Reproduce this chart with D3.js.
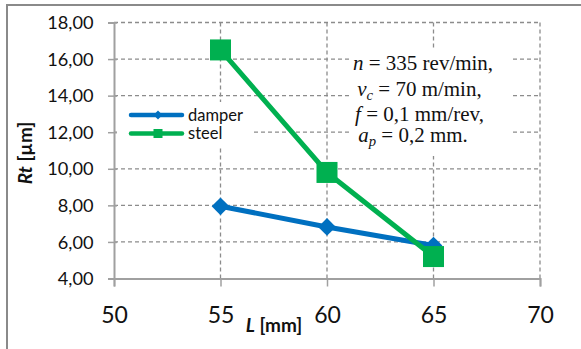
<!DOCTYPE html>
<html>
<head>
<meta charset="utf-8">
<script src="https://cdn.jsdelivr.net/npm/d3@7"></script>
<style>
  body { margin: 0; background: #fff; }
</style>
</head>
<body>
<div id="chart"></div>
<script>
// data
var lengths = [55, 60, 65];
var damper = [7.95, 6.82, 5.8];
var steel = [16.5, 9.8, 5.2];
var seriesNames = ["damper", "steel"];
var xTicks = [50, 55, 60, 65, 70];
var yTicks = [4, 6, 8, 10, 12, 14, 16, 18];
var yTickLabels = ["4,00", "6,00", "8,00", "10,00", "12,00", "14,00", "16,00", "18,00"];

var svgW = 581, svgH = 349;
var blue = "#0070c0", green = "#00b050", gridC = "#8c8c8c", axisC = "#a0a0a0";

var svg = d3.select("#chart").append("svg")
    .attr("width", svgW).attr("height", svgH);

// outer frame (right / bottom edges fall outside the picture)
svg.append("rect").attr("x", 7).attr("y", 5).attr("width", 620).attr("height", 400)
    .attr("fill", "none").attr("stroke", "#8a8a8a").attr("stroke-width", 2);

var x = d3.scaleLinear().domain([50, 70]).range([114, 540]);
var y = d3.scaleLinear().domain([4, 18]).range([278.5, 22.5]);

// gridlines
var grid = svg.append("g");
grid.selectAll("line.h").data(yTicks.slice(1)).enter().append("line")
    .attr("x1", x(50)).attr("x2", x(70))
    .attr("y1", d => y(d)).attr("y2", d => y(d));
grid.selectAll("line.v").data(xTicks.slice(1)).enter().append("line")
    .attr("x1", d => x(d)).attr("x2", d => x(d))
    .attr("y1", y(18)).attr("y2", y(4));
grid.selectAll("line").attr("stroke", gridC).attr("stroke-width", 1.3)
    .attr("stroke-dasharray", "4,3");

// axes
var yAxis = d3.axisLeft(y).tickValues(yTicks).tickSize(6)
    .tickFormat((d, i) => yTickLabels[i]);
var xAxis = d3.axisBottom(x).tickValues(xTicks).tickSize(8).tickPadding(20);

var gy = svg.append("g").attr("transform", `translate(${x(50)},0)`).call(yAxis);
var gx = svg.append("g").attr("transform", `translate(0,${y(4)})`).call(xAxis);

[gx, gy].forEach(function(g) {
    g.select(".domain").attr("stroke", axisC).attr("stroke-width", 2);
    g.selectAll(".tick line").attr("stroke", axisC).attr("stroke-width", 1.5);
    g.selectAll("text").attr("fill", "#111").attr("font-family", "Lato");
});
gy.selectAll(".tick line").attr("x2", -6).attr("x1", 3);
gy.selectAll("text").attr("font-size", 17).attr("transform", "scale(1.07,1)")
    .attr("x", -20.5 / 1.07).attr("dy", "0.36em");
gx.selectAll("text").attr("font-size", 23);

// axis titles
svg.append("text").attr("x", 274).attr("y", 332).attr("text-anchor", "middle")
    .attr("font-family", "Lato").attr("font-weight", "bold").attr("font-size", 19)
    .attr("fill", "#111")
    .call(t => { t.append("tspan").attr("font-style", "italic").text("L");
                 t.append("tspan").text(" [mm]"); });

svg.append("text").attr("transform", "translate(32,153) rotate(-90)")
    .attr("text-anchor", "middle")
    .attr("font-family", "Lato").attr("font-weight", "bold").attr("font-size", 19)
    .attr("fill", "#111")
    .call(t => { t.append("tspan").attr("font-style", "italic").text("Rt");
                 t.append("tspan").text(" [µm]"); });

// series
var line = d3.line().x((d, i) => x(lengths[i])).y(d => y(d));
var diamond = d3.symbol().type(d3.symbolDiamond2);

svg.append("path").datum(damper).attr("d", line)
    .attr("fill", "none").attr("stroke", blue).attr("stroke-width", 5)
    .attr("stroke-linejoin", "round");
svg.selectAll("path.dm").data(damper).enter().append("path")
    .attr("transform", (d, i) => `translate(${x(lengths[i])},${y(d)})`)
    .attr("d", diamond.size(200)).attr("fill", blue);

svg.append("path").datum(steel).attr("d", line)
    .attr("fill", "none").attr("stroke", green).attr("stroke-width", 5)
    .attr("stroke-linejoin", "round");
svg.selectAll("rect.sm").data(steel).enter().append("rect")
    .attr("x", (d, i) => x(lengths[i]) - 10.5).attr("y", d => y(d) - 10.5)
    .attr("width", 21).attr("height", 21).attr("fill", green);

// legend
svg.append("rect").attr("x", 117).attr("y", 102).attr("width", 136).attr("height", 45)
    .attr("fill", "#fff");
var lg = svg.selectAll("g.lg").data(seriesNames).enter().append("g")
    .attr("transform", (d, i) => `translate(0,${115 + i * 18.5})`);
lg.append("line").attr("x1", 131).attr("x2", 182).attr("y1", 0).attr("y2", 0)
    .attr("stroke", (d, i) => i ? green : blue).attr("stroke-width", 4.5)
    .attr("stroke-linecap", "round");
lg.filter((d, i) => i === 0).append("path")
    .attr("transform", "translate(158,0)").attr("d", diamond.size(50)).attr("fill", blue);
lg.filter((d, i) => i === 1).append("rect")
    .attr("x", 153.5).attr("y", -4.5).attr("width", 9).attr("height", 9).attr("fill", green);
lg.append("text").attr("x", 188).attr("y", 5.5).text(d => d)
    .attr("font-family", "Lato").attr("font-size", 16.5).attr("fill", "#111");

// parameters note
svg.append("rect").attr("x", 350).attr("y", 48).attr("width", 163).attr("height", 108)
    .attr("fill", "#fff");
var note = svg.append("g").attr("font-family", "Liberation Serif").attr("font-size", 20)
    .attr("fill", "#111").attr("transform", "translate(353,0) scale(1.05,1)");
var n1 = note.append("text").attr("x", 0).attr("y", 70);
n1.append("tspan").attr("font-style", "italic").text("n");
n1.append("tspan").text(" = 335 rev/min,");
var n2 = note.append("text").attr("x", 4).attr("y", 96);
n2.append("tspan").attr("font-style", "italic").text("v");
n2.append("tspan").attr("font-style", "italic").attr("font-size", 14).attr("dy", 4).text("c");
n2.append("tspan").attr("dy", -4).text(" = 70 m/min,");
var n3 = note.append("text").attr("x", 2).attr("y", 121);
n3.append("tspan").attr("font-style", "italic").text("f");
n3.append("tspan").text(" = 0,1 mm/rev,");
var n4 = note.append("text").attr("x", 5).attr("y", 142);
n4.append("tspan").attr("font-style", "italic").text("a");
n4.append("tspan").attr("font-style", "italic").attr("font-size", 14).attr("dy", 4).text("p");
n4.append("tspan").attr("dy", -4).text(" = 0,2 mm.");
</script>
</body>
</html>
